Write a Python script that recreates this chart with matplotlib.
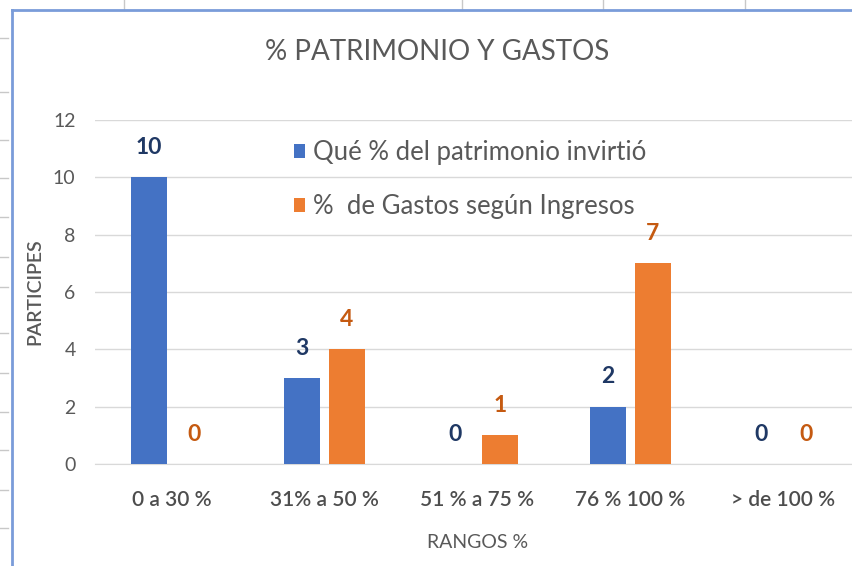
import matplotlib
matplotlib.use("Agg")
from matplotlib import pyplot as plt
from matplotlib.lines import Line2D
import numpy as np

plt.rcParams['font.family'] = ['Lato', 'DejaVu Sans']

# data
rangos = ['0 a 30 %', '31% a 50 %', '51 % a 75 %', '76 % 100 %', '> de 100 %']
patrimonio = [10, 3, 0, 2, 0]
gastos = [0, 4, 1, 7, 0]
serie_names = ['Qué % del patrimonio invirtió', '%  de Gastos según Ingresos']

blue = '#4472C4'
orange = '#ED7D31'
gray = '#595959'

fig = plt.figure(figsize=(8.52, 5.66), dpi=100)
W, H = 852, 566

### ---------------- spreadsheet background bits ---------------- ###
for xv in [124, 462, 603, 745]:
    fig.add_artist(Line2D([xv / W, xv / W], [1 - 0 / H, 1 - 10 / H], color='#C8C8C8', lw=1))
for yv in [38, 92, 140, 178, 217, 257, 287, 333, 373, 412, 450, 490, 528]:
    fig.add_artist(Line2D([0, 8 / W], [1 - yv / H, 1 - yv / H], color='#C8C8C8', lw=1))
# chart frame (blue border on left and top)
fig.add_artist(Line2D([12 / W, 12 / W], [0, 1 - 10 / H], color='#7A9CD9', lw=2))
fig.add_artist(Line2D([12 / W, 1], [1 - 10 / H, 1 - 10 / H], color='#7A9CD9', lw=2))

### ---------------- bar chart ---------------- ###
ax = fig.add_axes([95 / W, 1 - 464 / H, 765 / W, 344 / H])
x = np.arange(len(rangos))
w = 0.23
off = 0.147
b1 = ax.bar(x - off, patrimonio, w, color=blue, zorder=3)
b2 = ax.bar(x + off, gastos, w, color=orange, zorder=3)

for rect, v in zip(b1, patrimonio):
    ax.annotate(str(v), (rect.get_x() + rect.get_width() / 2, v), xytext=(0, 14),
                textcoords='offset points', ha='center', va='bottom',
                fontsize=16.5, fontweight='bold', color='#1F3864')
for rect, v in zip(b2, gastos):
    ax.annotate(str(v), (rect.get_x() + rect.get_width() / 2, v), xytext=(0, 14),
                textcoords='offset points', ha='center', va='bottom',
                fontsize=16.5, fontweight='bold', color='#C55A11')

ax.set_xlim(-0.5, 4.5)
ax.set_ylim(0, 12)
ax.set_yticks(range(0, 13, 2))
ax.set_xticks(x)
ax.set_xticklabels(rangos, fontsize=15, color='#4D4D4D', fontweight='semibold')
ax.tick_params(axis='y', labelsize=14, labelcolor=gray, length=0, pad=14)
ax.tick_params(axis='x', length=0, pad=19)
ax.grid(axis='y', color='#D9D9D9', lw=1, zorder=0)
for s in ['top', 'right', 'left']:
    ax.spines[s].set_visible(False)
ax.spines['bottom'].set_color('#D9D9D9')

fig.text(35 / W, 1 - 292 / H, 'PARTICIPES', fontsize=14, color=gray, fontweight='semibold',
         rotation=90, ha='center', va='center')
fig.text(478 / W, 1 - 543 / H, 'RANGOS %', fontsize=14, color=gray, ha='center', va='center')
fig.text(437 / W, 1 - 52 / H, '% PATRIMONIO Y GASTOS', fontsize=20, color=gray,
         ha='center', va='center')

ax.legend([b1, b2], serie_names, loc='upper left', frameon=False,
          bbox_to_anchor=(281 / W, 1 - 127 / H), bbox_transform=fig.transFigure,
          fontsize=18.5, labelcolor=gray, handlelength=0.45, handleheight=0.45,
          handletextpad=0.3, labelspacing=1.15, borderpad=0)

fig.savefig('out.png', dpi=100)
